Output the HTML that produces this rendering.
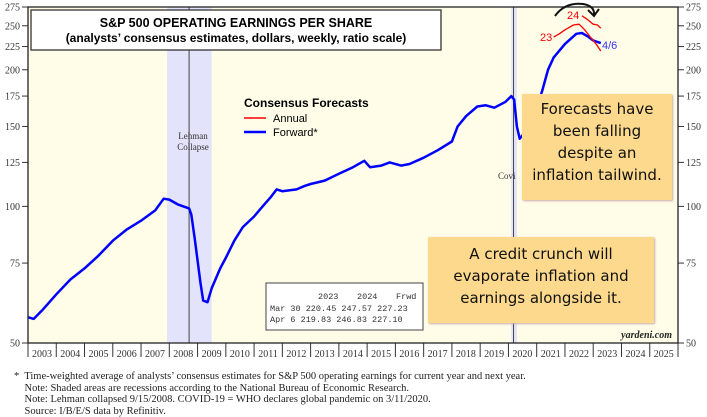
<!DOCTYPE html>
<html><head><meta charset="utf-8"><style>
body{margin:0;background:#fff;width:707px;height:417px;overflow:hidden;font-family:"Liberation Sans",sans-serif}
svg{position:absolute;left:0;top:0}
.note{position:absolute;background:#fcd98c;color:#111;font-family:"DejaVu Sans",sans-serif;text-align:center;box-shadow:1px 1px 2px #caa}
.foot{position:absolute;left:14px;font-family:"Liberation Serif",serif;font-size:10.5px;line-height:11.5px;color:#222}
</style></head><body>
<svg width="707" height="417">
<rect x="28" y="7" width="650" height="336" fill="#fffde8"/>
<g id="rec"></g>
<g id="axes" font-family="Liberation Serif,serif" font-size="10" fill="#333"></g>
<g id="lines"></g>
<rect x="28" y="7" width="650" height="336" fill="none" stroke="#222" stroke-width="1.3"/>
<rect x="31" y="10" width="410" height="40" fill="#fff" stroke="#333" stroke-width="1.3"/>
<text x="236" y="27" text-anchor="middle" font-weight="bold" font-size="12.5">S&amp;P 500 OPERATING EARNINGS PER SHARE</text>
<text x="236" y="42" text-anchor="middle" font-weight="bold" font-size="12">(analysts’ consensus estimates, dollars, weekly, ratio scale)</text>
<g>
<text x="244" y="107" font-weight="bold" font-size="12">Consensus Forecasts</text>
<line x1="244" y1="118" x2="266" y2="118" stroke="red" stroke-width="1.5"/>
<text x="273" y="122" font-size="11">Annual</text>
<line x1="244" y1="132" x2="266" y2="132" stroke="blue" stroke-width="2.5"/>
<text x="273" y="136" font-size="11">Forward*</text>
</g>
<text x="193" y="139" text-anchor="middle" font-family="Liberation Serif,serif" font-size="9" fill="#333">Lehman</text>
<text x="193" y="150" text-anchor="middle" font-family="Liberation Serif,serif" font-size="9" fill="#333">Collapse</text>
<text x="498" y="179" font-family="Liberation Serif,serif" font-size="9" fill="#333">Covi</text>
<text x="540" y="41" fill="red" font-size="11">23</text>
<text x="567" y="19" fill="red" font-size="11">24</text>
<text x="602" y="49" fill="#33f" font-size="11">4/6</text>
<path d="M555 16 Q565 2 583 4 Q595 6 594 15 M588 10 L594 16 L599 9" fill="none" stroke="#111" stroke-width="2"/>
<g font-family="Liberation Mono,monospace" font-size="8.5" fill="#333">
<rect x="266" y="283" width="157" height="47" fill="#fff" stroke="#444"/>
<text x="318" y="299">2023</text><text x="357" y="299">2024</text><text x="396" y="299">Frwd</text>
<text x="270" y="311">Mar 30  220.45  247.57  227.23</text>
<text x="270" y="322">Apr  6  219.83  246.83  227.10</text>
</g>
<text x="672" y="338" text-anchor="end" font-family="Liberation Serif,serif" font-style="italic" font-weight="bold" font-size="10" fill="#222">yardeni.com</text>
</svg>
<div class="note" style="left:522px;top:94px;width:150px;height:106px;font-size:15px;line-height:22px;padding-top:4px;box-sizing:border-box">Forecasts have<br>been falling<br>despite an<br>inflation tailwind.</div>
<div class="note" style="left:428px;top:237px;width:226px;height:86px;font-size:15px;line-height:22px;padding-top:6px;box-sizing:border-box">A credit crunch will<br>evaporate inflation and<br>earnings alongside it.</div>
<div class="foot" style="top:371px">*&nbsp; Time-weighted average of analysts’ consensus estimates for S&amp;P 500 operating earnings for current year and next year.<br>&nbsp;&nbsp;&nbsp;&nbsp;Note: Shaded areas are recessions according to the National Bureau of Economic Research.<br>&nbsp;&nbsp;&nbsp;&nbsp;Note: Lehman collapsed 9/15/2008. COVID-19 = WHO declares global pandemic on 3/11/2020.<br>&nbsp;&nbsp;&nbsp;&nbsp;Source: I/B/E/S data by Refinitiv.</div>
<script>
const yTicks=[50,75,100,125,150,175,200,225,250,275];
const years=[2003,2004,2005,2006,2007,2008,2009,2010,2011,2012,2013,2014,2015,2016,2017,2018,2019,2020,2021,2022,2023,2024,2025];
const fwdT=[2003.0,2003.2,2003.5,2004.0,2004.5,2005.0,2005.5,2006.0,2006.5,2007.0,2007.5,2007.8,2008.0,2008.3,2008.5,2008.7,2008.78,2008.9,2009.1,2009.2,2009.35,2009.5,2009.8,2010.0,2010.3,2010.6,2011.0,2011.3,2011.6,2011.8,2012.0,2012.5,2012.8,2013.0,2013.5,2014.0,2014.5,2014.9,2015.1,2015.5,2015.8,2016.2,2016.5,2017.0,2017.5,2018.0,2018.2,2018.5,2018.9,2019.2,2019.5,2019.9,2020.1,2020.2,2020.3,2020.4,2020.6,2020.9,2021.2,2021.4,2021.6,2022.0,2022.4,2022.6,2022.8,2023.0,2023.27];
const fwdV=[57,56.5,59,64,69,73,78,84,89,93,98,104,103.5,101,100,99,96,85,68,62,61.5,66,73,77,84,90,95,100,105,109,108,109,111,112,114,118,122,126,122,123,125,123,124,128,133,139,150,158,166,167,165,170,175,172,150,141,146,158,180,200,213,228,240,241,237,232,229];
const a23T=[2021.6,2021.8,2022.0,2022.3,2022.5,2022.7,2022.9,2023.1,2023.27];
const a23V=[236,240,245,251,252,245,236,228,220];
const a24T=[2022.6,2022.8,2023.0,2023.15,2023.27];
const a24V=[263,258,252,251,247];
const recessions=[[2007.92,2009.5],[2020.1,2020.3]];
const events=[2008.7,2020.18];
const X=t=>28+(t-2003)*650/23, Y=v=>343-Math.log(v/50)*336/Math.log(5.5);
const NS='http://www.w3.org/2000/svg';
function mk(tag,a,p){const e=document.createElementNS(NS,tag);for(const k in a)e.setAttribute(k,a[k]);p.appendChild(e);return e;}
const rec=document.getElementById('rec'),ax=document.getElementById('axes'),ln=document.getElementById('lines');
recessions.forEach(r=>{const e=mk('rect',{x:X(r[0]),y:7,width:X(r[1])-X(r[0]),height:336,fill:'#e3e3fb'},rec);

});
events.forEach((t,i)=>{const e=mk('line',{x1:X(t),x2:X(t),y1:7,y2:343,stroke:'#444','stroke-width':1},rec);

});
yTicks.forEach(v=>{const y=Y(v);
mk('line',{x1:22,x2:28,y1:y,y2:y,stroke:'#333'},ax);mk('line',{x1:678,x2:684,y1:y,y2:y,stroke:'#333'},ax);
const l=mk('text',{x:20,y:y+3.5,'text-anchor':'end'},ax);l.textContent=v;


const r=mk('text',{x:686,y:y+3.5},ax);r.textContent=v;

});
years.forEach(yr=>{const x=X(yr);mk('line',{x1:x,x2:x,y1:343,y2:357,stroke:'#333'},ax);
const t=mk('text',{x:x+14,y:357,'text-anchor':'middle'},ax);t.textContent=yr;

});
mk('line',{x1:678,x2:678,y1:343,y2:357,stroke:'#333'},ax);
function path(T,V,c,w,n){const e=mk('path',{d:T.map((t,i)=>(i?'L':'M')+X(t).toFixed(1)+' '+Y(V[i]).toFixed(1)).join(''),fill:'none',stroke:c,'stroke-width':w,'stroke-linejoin':'round'},ln);

}
path(fwdT,fwdV,'blue',2.5,'forward-line');
path(a23T,a23V,'red',1.3,'annual-2023-line');
path(a24T,a24V,'red',1.3,'annual-2024-line');
</script>
</body></html>
